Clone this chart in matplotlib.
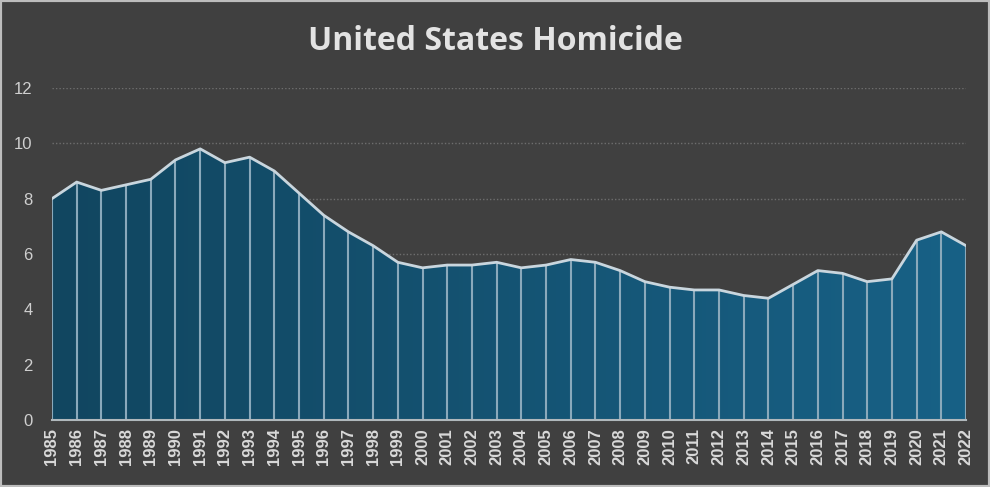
import matplotlib.pyplot as plt
import numpy as np
from matplotlib.colors import LinearSegmentedColormap
from matplotlib.patches import Rectangle

# Data
years = list(range(1985, 2023))
rates = [8.0, 8.6, 8.3, 8.5, 8.7, 9.4, 9.8, 9.3, 9.5, 9.0,
         8.2, 7.4, 6.8, 6.3, 5.7, 5.5, 5.6, 5.6, 5.7, 5.5,
         5.6, 5.8, 5.7, 5.4, 5.0, 4.8, 4.7, 4.7, 4.5, 4.4,
         4.9, 5.4, 5.3, 5.0, 5.1, 6.5, 6.8, 6.3]
y_ticks = [0, 2, 4, 6, 8, 10, 12]

bg = "#404040"
fig = plt.figure(figsize=(9.9, 4.87), dpi=100, facecolor=bg)
ax = fig.add_axes([0.0525, 0.1376, 0.9233, 0.6817])
ax.set_facecolor(bg)

# Gradient-filled area
poly = ax.fill_between(years, 0, rates, color="none", lw=0)
cmap = LinearSegmentedColormap.from_list("g", ["#114660", "#186186"])
grad = np.linspace(0, 1, 256).reshape(1, -1)
img = ax.imshow(grad, cmap=cmap, aspect="auto", extent=[years[0], years[-1], 0, 12],
                origin="lower", zorder=2)
img.set_clip_path(poly.get_paths()[0], transform=ax.transData)

ax.vlines(years, 0, rates, color="#8aa9bb", lw=1.5, zorder=3)
ax.plot(years, rates, color="#c9d6de", lw=2, zorder=4, solid_joinstyle="round")

ax.set_xlim(years[0], years[-1])
ax.set_ylim(0, 12)
ax.set_yticks(y_ticks)
ax.set_xticks(years)
ax.set_xticklabels([str(y) for y in years], rotation=90, fontweight="bold",
                   fontsize=12, color="#d9d9d9", family="Liberation Sans")
ax.set_yticklabels([str(t) for t in y_ticks], fontsize=12, color="#cfcfcf",
                   family="Liberation Sans")
ax.tick_params(axis="both", length=0, pad=6)
ax.tick_params(axis="y", pad=14)
ax.grid(axis="y", linestyle=(0, (1, 1.5)), color="#6e6e6e", lw=1, zorder=1)
for s in ["top", "right", "left"]:
    ax.spines[s].set_visible(False)
ax.spines["bottom"].set_color("#b0b8bc")
ax.spines["bottom"].set_linewidth(1.5)
ax.spines["bottom"].set_zorder(5)

fig.text(0.5, 0.915, "United States Homicide", ha="center", va="center",
         fontsize=23, fontweight="bold", color="#e3e3e3", family="Open Sans")

fig.patches.append(Rectangle((0, 0), 1, 1, transform=fig.transFigure, fill=False,
                             edgecolor="#bdbdbd", lw=3, zorder=10))

fig.savefig("out.png", dpi=100, facecolor=bg)
